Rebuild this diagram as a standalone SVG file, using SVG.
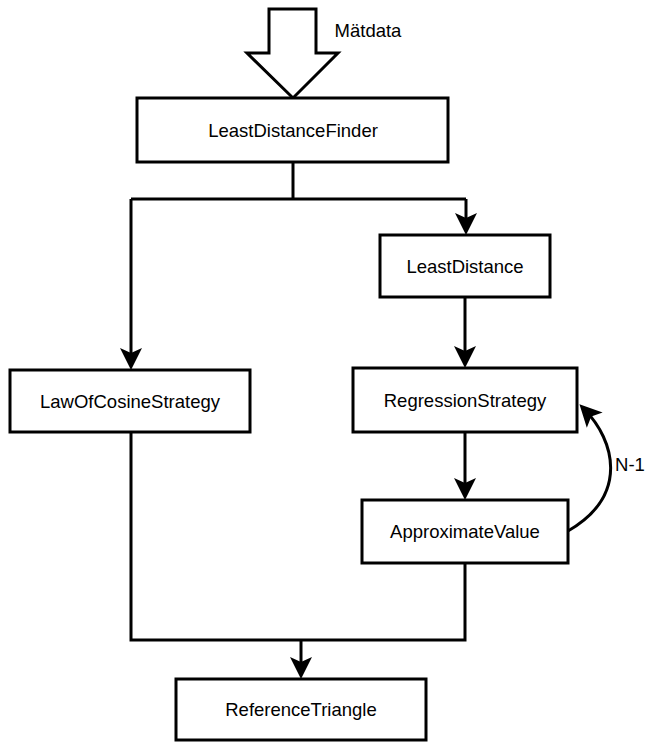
<svg xmlns="http://www.w3.org/2000/svg" width="647" height="743" viewBox="0 0 647 743">
<style>
.box{fill:#fff;stroke:#000;stroke-width:3}
.lbl{font-family:"Liberation Sans",Arial,sans-serif;font-size:18.5px;fill:#000;text-anchor:middle;dominant-baseline:central}
.edge{fill:none;stroke:#000;stroke-width:3}
</style>
<defs>
<marker id="arr" viewBox="-16 -12 26 24" refX="0" refY="0" markerWidth="26" markerHeight="24" markerUnits="userSpaceOnUse" orient="auto">
<path d="M8,0 L-14,-11 L-9,0 L-14,11 Z" fill="#000"/>
</marker>
</defs>
<rect width="647" height="743" fill="#fff"/>
<g id="input">
<polygon class="box" points="269,9 316,9 316,53 338,53 293,98 247,53 269,53"/>
<text class="lbl" x="368" y="30">Mätdata</text>
</g>
<g id="connectors">
<polyline class="edge" points="293,162 293,199"/>
<polyline class="edge" points="131,199 466,199"/>
<polyline class="edge" points="466,199 466,227" marker-end="url(#arr)"/>
<polyline class="edge" points="131,199 131,362" marker-end="url(#arr)"/>
<polyline class="edge" points="465,297 465,360" marker-end="url(#arr)"/>
<polyline class="edge" points="465,432 465,492" marker-end="url(#arr)"/>
<polyline class="edge" points="131,432 131,640 465,640 465,563"/>
<polyline class="edge" points="301,640 301,671" marker-end="url(#arr)"/>
<path class="edge" d="M568,531 C630,495 614,440 585,410" marker-end="url(#arr)"/>
<text class="lbl" x="630" y="464">N-1</text>
</g>
<g id="LeastDistanceFinder">
<rect class="box" x="137" y="98" width="311" height="64"/>
<text class="lbl" x="293" y="130">LeastDistanceFinder</text>
</g>
<g id="LeastDistance">
<rect class="box" x="380" y="235" width="170" height="62"/>
<text class="lbl" x="465" y="266">LeastDistance</text>
</g>
<g id="LawOfCosineStrategy">
<rect class="box" x="10" y="370" width="240" height="62"/>
<text class="lbl" x="130" y="401">LawOfCosineStrategy</text>
</g>
<g id="RegressionStrategy">
<rect class="box" x="353" y="368" width="224" height="64"/>
<text class="lbl" x="465" y="400">RegressionStrategy</text>
</g>
<g id="ApproximateValue">
<rect class="box" x="362" y="500" width="206" height="63"/>
<text class="lbl" x="465" y="531">ApproximateValue</text>
</g>
<g id="ReferenceTriangle">
<rect class="box" x="176" y="679" width="250" height="61"/>
<text class="lbl" x="301" y="709">ReferenceTriangle</text>
</g>
</svg>
